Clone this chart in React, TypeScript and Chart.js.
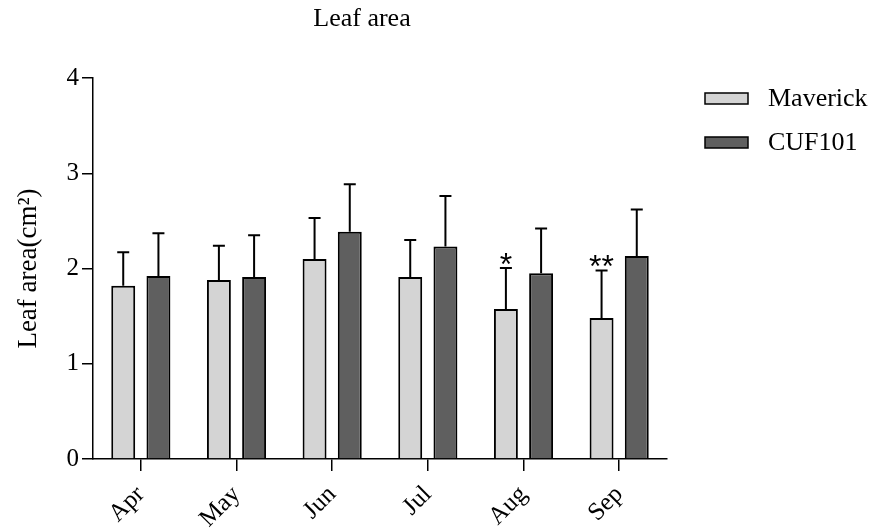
import React, { useEffect, useRef } from "react";
import { Chart, registerables } from "chart.js";

Chart.register(...registerables);

const chartTitle = "Leaf area";
const yAxisTitle = "Leaf area(cm²)";
const categories = ["Apr", "May", "Jun", "Jul", "Aug", "Sep"];
const seriesNames = ["Maverick", "CUF101"];
const maverick = [1.82, 1.88, 2.1, 1.91, 1.575, 1.48];
const maverickErr = [0.35, 0.36, 0.43, 0.39, 0.43, 0.5];
const cuf101 = [1.92, 1.91, 2.385, 2.23, 1.95, 2.13];
const cuf101Err = [0.45, 0.44, 0.5, 0.53, 0.47, 0.49];
const maverickSig = ["", "", "", "", "*", "**"];
const cuf101Sig = ["", "", "", "", "", ""];
const yTicks = [0, 1, 2, 3, 4];

const colors = ["#d4d4d4", "#5f5f5f"];
const SERIF = "'Liberation Serif', 'Times New Roman', serif";

const errorBarPlugin = {
  id: "errorBars",
  afterDatasetsDraw(chart: any) {
    const ctx = chart.ctx;
    const yScale = chart.scales.y;
    chart.data.datasets.forEach((ds: any, i: number) => {
      const meta = chart.getDatasetMeta(i);
      meta.data.forEach((bar: any, j: number) => {
        const v = ds.data[j];
        const e = ds.errors[j];
        const yTop = yScale.getPixelForValue(v + e);
        const yBar = yScale.getPixelForValue(v);
        ctx.save();
        ctx.strokeStyle = "#000";
        ctx.lineWidth = 2;
        ctx.beginPath();
        ctx.moveTo(bar.x, yBar);
        ctx.lineTo(bar.x, yTop);
        ctx.moveTo(bar.x - 6, yTop);
        ctx.lineTo(bar.x + 6, yTop);
        ctx.stroke();
        const sig = ds.sig[j];
        if (sig) {
          ctx.fillStyle = "#000";
          ctx.font = "32px 'Liberation Sans', Arial, sans-serif";
          ctx.textAlign = "center";
          ctx.textBaseline = "alphabetic";
          ctx.fillText(sig, bar.x, yTop + 7);
        }
        ctx.restore();
      });
    });
  },
};

const decorPlugin = {
  id: "decor",
  afterDraw(chart: any) {
    const ctx = chart.ctx;
    ctx.save();
    ctx.fillStyle = "#000";
    ctx.font = `26px ${SERIF}`;
    ctx.textAlign = "center";
    ctx.textBaseline = "middle";
    ctx.fillText(chartTitle, 362, 19);
    const items = seriesNames.map((n, i) => ({ n, c: colors[i] }));
    items.forEach((it, i) => {
      const y = 93 + i * 44;
      ctx.fillStyle = it.c;
      ctx.fillRect(705, y, 43, 11);
      ctx.strokeStyle = "#000";
      ctx.lineWidth = 1.5;
      ctx.strokeRect(705, y, 43, 11);
      ctx.fillStyle = "#000";
      ctx.font = `26px ${SERIF}`;
      ctx.textAlign = "left";
      ctx.textBaseline = "middle";
      ctx.fillText(it.n, 768, y + 6);
    });
    ctx.restore();
  },
};

export default function App() {
  const ref = useRef<HTMLCanvasElement>(null);
  useEffect(() => {
    if (!ref.current) return;
    const chart = new Chart(ref.current, {
      type: "bar",
      data: {
        labels: categories,
        datasets: [
          {
            label: seriesNames[0],
            data: maverick,
            errors: maverickErr,
            sig: maverickSig,
            backgroundColor: colors[0],
            borderColor: "#000",
            borderWidth: 2,
            categoryPercentage: 0.736,
            barPercentage: 0.68,
          } as any,
          {
            label: seriesNames[1],
            data: cuf101,
            errors: cuf101Err,
            sig: cuf101Sig,
            backgroundColor: colors[1],
            borderColor: "#000",
            borderWidth: 2,
            categoryPercentage: 0.736,
            barPercentage: 0.68,
          } as any,
        ],
      },
      options: {
        responsive: false,
        animation: false,
        layout: { padding: { top: 78, right: 210, bottom: 0, left: 0 } },
        plugins: {
          legend: { display: false },
          title: { display: false },
          tooltip: { enabled: false },
        },
        scales: {
          x: {
            offset: true,
            grid: {
              offset: false,
              drawOnChartArea: false,
              drawTicks: true,
              tickLength: 12,
              color: "#000",
              lineWidth: 1.5,
            },
            border: { display: true, color: "#000", width: 1.5 },
            ticks: {
              color: "#000",
              font: { family: SERIF, size: 25 },
              minRotation: 45,
              maxRotation: 45,
              padding: 9,
            },
            afterFit: (s: any) => {
              s.height = 70;
            },
          },
          y: {
            min: 0,
            max: 4,
            afterBuildTicks: (s: any) => {
              s.ticks = yTicks.map((v) => ({ value: v }));
            },
            grid: {
              drawOnChartArea: false,
              drawTicks: true,
              tickLength: 11,
              color: "#000",
              lineWidth: 1.5,
            },
            border: { display: true, color: "#000", width: 1.5 },
            ticks: {
              color: "#000",
              font: { family: SERIF, size: 25 },
              padding: 3,
            },
            title: {
              display: true,
              text: yAxisTitle,
              color: "#000",
              font: { family: SERIF, size: 27 },
              padding: { top: 13, bottom: 0 },
            },
            afterFit: (s: any) => {
              s.width = 93;
            },
          },
        },
      } as any,
      plugins: [errorBarPlugin, decorPlugin],
    });
    return () => chart.destroy();
  }, []);
  return (
    <div style={{ position: "fixed", left: 0, top: 0, width: 877, height: 529, background: "#fff" }}>
      <canvas ref={ref} width={877} height={529} style={{ display: "block" }} />
    </div>
  );
}
